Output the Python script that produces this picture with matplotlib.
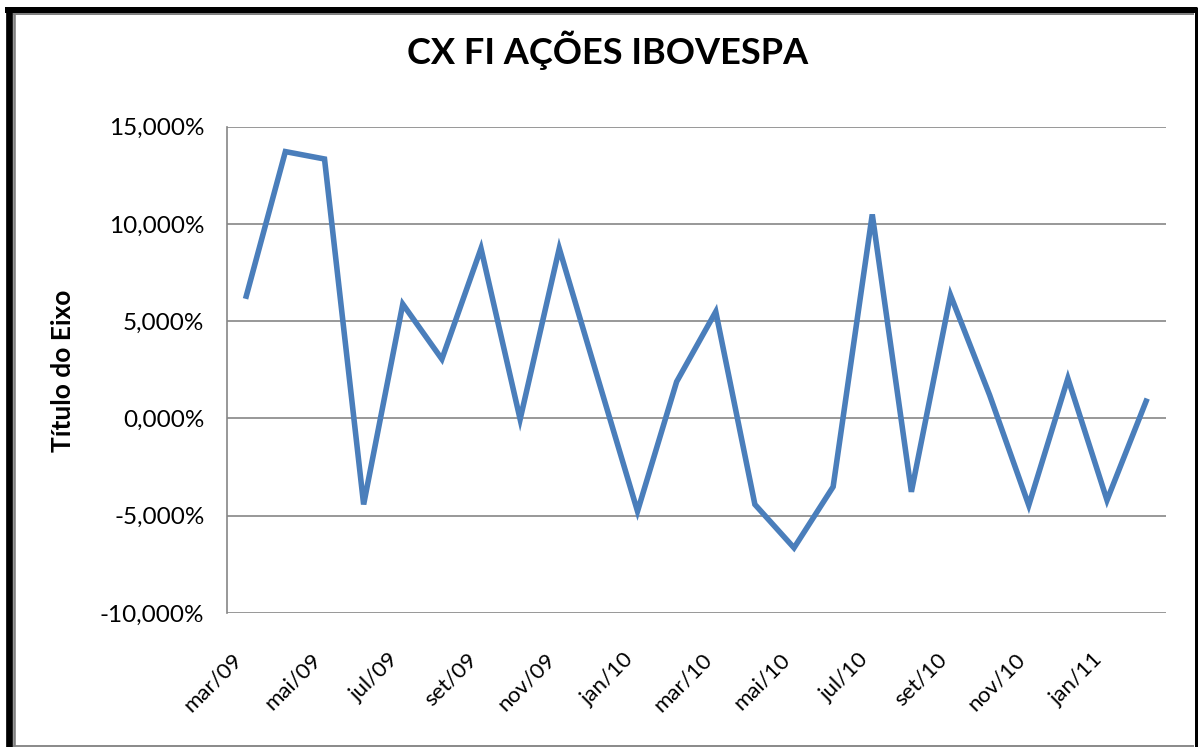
import matplotlib
matplotlib.use("Agg")
import matplotlib.pyplot as plt
from matplotlib.lines import Line2D
from matplotlib.ticker import FuncFormatter

# ---- data ----
months = ["mar/09", "abr/09", "mai/09", "jun/09", "jul/09", "ago/09", "set/09", "out/09",
          "nov/09", "dez/09", "jan/10", "fev/10", "mar/10", "abr/10", "mai/10", "jun/10",
          "jul/10", "ago/10", "set/10", "out/10", "nov/10", "dez/10", "jan/11", "fev/11"]
returns_pct = [6.29, 13.72, 13.34, -4.42, 5.88, 3.05, 8.74, -0.04,
               8.74, 1.97, -4.77, 1.89, 5.49, -4.42, -6.65, -3.51,
               10.49, -3.77, 6.34, 1.20, -4.46, 2.06, -4.20, 0.89]
y_ticks = [-10, -5, 0, 5, 10, 15]
title = "CX FI AÇÕES IBOVESPA"
y_label = "Título do Eixo"

plt.rcParams['font.family'] = ['Lato', 'DejaVu Sans']

W, H = 1198, 747
fig = plt.figure(figsize=(W / 100, H / 100), dpi=100)
fig.patch.set_facecolor("white")

def fx(px):
    return px / W

def fy(py):
    return 1 - py / H

ax = fig.add_axes([fx(226.7), fy(613), fx(1165.7) - fx(226.7), fy(126.7) - fy(613)])
x = list(range(len(months)))
ax.plot(x, returns_pct, color="#4A7EBB", lw=4.0, solid_joinstyle="miter", zorder=3)

ax.set_xlim(-0.5, len(months) - 0.5)
ax.set_ylim(-10, 15)
ax.set_yticks(y_ticks)
ax.yaxis.set_major_formatter(FuncFormatter(lambda v, p: f"{v:.3f}".replace(".", ",") + "%"))
ax.grid(axis="y", color="#868686", lw=1.2, zorder=1)
ax.set_axisbelow(True)

tick_pos = x[::2]
ax.set_xticks(tick_pos)
ax.set_xticklabels([months[i] for i in tick_pos], rotation=45, ha="right", va="top",
                   rotation_mode="default")
ax.tick_params(axis="x", length=0, pad=26, labelsize=16, colors="black")
ax.tick_params(axis="y", length=0, pad=16, labelsize=17.5, colors="black")

for s in ["top", "right", "bottom"]:
    ax.spines[s].set_visible(False)
ax.spines["left"].set_color("#868686")
ax.spines["left"].set_linewidth(1.2)

fig.text(fx(63), fy(371), y_label, rotation=90, ha="center", va="center",
         fontsize=19, fontweight="bold")
fig.text(fx(608), fy(64), title, ha="center", va="baseline",
         fontsize=26, fontweight="bold")

# ---- chart frame (screenshot border) ----
def hline(y, x0, x1, color, lw_px):
    fig.add_artist(Line2D([fx(x0), fx(x1)], [fy(y), fy(y)], color=color,
                          lw=lw_px * 72 / 100, solid_capstyle="butt"))

def vline(xp, y0, y1, color, lw_px):
    fig.add_artist(Line2D([fx(xp), fx(xp)], [fy(y0), fy(y1)], color=color,
                          lw=lw_px * 72 / 100, solid_capstyle="butt"))

vline(8.7, 7.3, 747, "black", 6.7)
hline(10.3, 5.3, 1197.3, "black", 6)
vline(1195.8, 7.3, 747, "black", 3)
vline(14.0, 13.3, 746, "#808080", 2.6)
hline(14.3, 12.7, 1194.3, "#808080", 2)
hline(745.5, 12.7, 1194.3, "#808080", 1.8)

fig.savefig("out.png", dpi=100)
